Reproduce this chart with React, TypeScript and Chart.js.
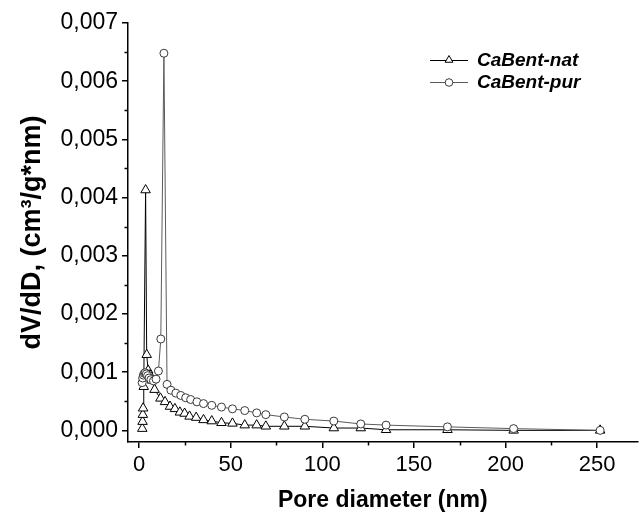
import React, { useEffect, useRef } from "react";
import { Chart, registerables } from "chart.js";

Chart.register(...registerables);

// ---- Data ----
const seriesNames = ["CaBent-nat", "CaBent-pur"];

const natDiameter = [1.8, 1.95, 2.1, 2.25, 2.6, 3.6, 4.2, 5.0, 6.0, 7.1, 8.5, 11.7, 14.2, 16.9, 19.6, 22.3, 24.9, 27.6, 31.2, 35.2, 39.7, 45, 51, 57.7, 64.2, 69.2, 79.3, 90.5, 106.3, 121, 134.8, 168.3, 204.4, 251.6];
const natValues = [0.00003, 0.00015, 0.00027, 0.00038, 0.00075, 0.00413, 0.0013, 0.00103, 0.00095, 0.00086, 0.0007, 0.00055, 0.00049, 0.00041, 0.00037, 0.00031, 0.00029, 0.00024, 0.00022, 0.00018, 0.00016, 0.00013, 0.00012, 0.00009, 0.00009, 0.00007, 0.00007, 0.00007, 0.00004, 0.00004, 0.00001, 0.00001, 0.0, 0.0];

const purDiameter = [1.7, 2.0, 2.4, 2.9, 3.4, 4.0, 4.7, 5.5, 6.5, 7.9, 9.3, 10.6, 11.9, 13.6, 15.3, 17.4, 20.1, 22.8, 25.5, 28.2, 31.6, 35.2, 39.7, 45, 51, 57.7, 64.2, 69.2, 79.3, 90.5, 106.3, 121, 134.8, 168.3, 204.4, 251.6];
const purValues = [0.00082, 0.0009, 0.00095, 0.00098, 0.00099, 0.00097, 0.00094, 0.0009, 0.00087, 0.00085, 0.00088, 0.00102, 0.00157, 0.00648, 0.00079, 0.00069, 0.00064, 0.0006, 0.00056, 0.00053, 0.00049, 0.00046, 0.00043, 0.0004, 0.00037, 0.00034, 0.0003, 0.00027, 0.00023, 0.00019, 0.00016, 0.00011, 0.00009, 0.00006, 0.00003, 0.0];

const xTicks = [0, 50, 100, 150, 200, 250];
const xMinorTicks = [25, 75, 125, 175, 225];
const yTicks = [0, 0.001, 0.002, 0.003, 0.004, 0.005, 0.006, 0.007];
const yMinorTicks = [0.0005, 0.0015, 0.0025, 0.0035, 0.0045, 0.0055, 0.0065];

const xTitle = "Pore diameter (nm)";
const yTitle = "dV/dD, (cm\u00B3/g*nm)";

const FONT = "'Liberation Sans', Arial, Helvetica, sans-serif";

export default function App() {
  const ref = useRef<HTMLCanvasElement>(null);

  useEffect(() => {
    if (!ref.current) return;

    const minorTicksPlugin = {
      id: "minorTicks",
      afterDraw(chart: any) {
        const { ctx, scales, chartArea } = chart;
        const xs = scales.x;
        const ys = scales.y;
        ctx.save();
        ctx.strokeStyle = "#000";
        ctx.lineWidth = 1.5;
        xMinorTicks.forEach((v) => {
          const px = Math.round(xs.getPixelForValue(v)) + 0.5;
          ctx.beginPath();
          ctx.moveTo(px, chartArea.bottom);
          ctx.lineTo(px, chartArea.bottom + 3.5);
          ctx.stroke();
        });
        yMinorTicks.forEach((v) => {
          const py = Math.round(ys.getPixelForValue(v)) + 0.5;
          ctx.beginPath();
          ctx.moveTo(chartArea.left, py);
          ctx.lineTo(chartArea.left - 3.5, py);
          ctx.stroke();
        });
        ctx.restore();
      },
    };

    const legendPlugin = {
      id: "customLegend",
      afterDraw(chart: any) {
        const { ctx } = chart;
        const x0 = 430;
        const x1 = 468;
        const mx = 449;
        const tx = 477;
        const rows = [60, 82];
        ctx.save();
        chart.data.datasets.forEach((ds: any, i: number) => {
          const y = rows[i];
          ctx.strokeStyle = ds.borderColor;
          ctx.lineWidth = 1;
          ctx.beginPath();
          ctx.moveTo(x0, y + 0.5);
          ctx.lineTo(x1, y + 0.5);
          ctx.stroke();
          ctx.fillStyle = "#fff";
          ctx.strokeStyle = ds.pointBorderColor;
          ctx.beginPath();
          if (ds.pointStyle === "triangle") {
            const r = 4.5;
            ctx.moveTo(mx, y - r);
            ctx.lineTo(mx + r * 0.866, y + r * 0.5);
            ctx.lineTo(mx - r * 0.866, y + r * 0.5);
            ctx.closePath();
          } else {
            ctx.arc(mx, y + 0.5, 3.8, 0, Math.PI * 2);
          }
          ctx.fill();
          ctx.stroke();
          ctx.fillStyle = "#000";
          ctx.font = `italic bold 19px ${FONT}`;
          ctx.textBaseline = "middle";
          ctx.textAlign = "left";
          ctx.fillText(ds.label, tx, y + 1);
        });
        ctx.restore();
      },
    };

    const chart = new Chart(ref.current, {
      type: "line",
      data: {
        datasets: [
          {
            label: seriesNames[0],
            data: natDiameter.map((x, i) => ({ x, y: natValues[i] })),
            borderColor: "#000",
            borderWidth: 1,
            pointStyle: "triangle",
            pointRadius: 5.5,
            pointBackgroundColor: "#fff",
            pointBorderColor: "#000",
            pointBorderWidth: 1,
            tension: 0,
            order: 2,
          },
          {
            label: seriesNames[1],
            data: purDiameter.map((x, i) => ({ x, y: purValues[i] })),
            borderColor: "#5a5a5a",
            borderWidth: 1,
            pointStyle: "circle",
            pointRadius: 4,
            pointBackgroundColor: "#fff",
            pointBorderColor: "#3a3a3a",
            pointBorderWidth: 1,
            tension: 0,
            order: 1,
          },
        ],
      },
      options: {
        animation: false,
        responsive: false,
        maintainAspectRatio: false,
        layout: { padding: { top: 23, right: 0, left: 0, bottom: 0 } },
        plugins: {
          legend: { display: false },
          tooltip: { enabled: false },
        },
        scales: {
          x: {
            type: "linear",
            min: -6,
            max: 272,
            afterBuildTicks: (s: any) => {
              s.ticks = xTicks.map((v) => ({ value: v }));
            },
            afterFit: (s: any) => {
              s.height = 75;
            },
            grid: {
              drawOnChartArea: false,
              color: "#000",
              lineWidth: 1.5,
              tickLength: 6,
            },
            border: { color: "#000", width: 1.5 },
            ticks: {
              color: "#000",
              font: { family: FONT, size: 22 },
              padding: 4,
              maxRotation: 0,
              autoSkip: false,
              callback: (v: any) => String(v),
            },
            title: {
              display: true,
              text: xTitle,
              color: "#000",
              font: { family: FONT, size: 23, weight: "bold" },
              padding: { top: 0, bottom: 3 },
            },
          },
          y: {
            type: "linear",
            min: -0.0002,
            max: 0.007,
            afterBuildTicks: (s: any) => {
              s.ticks = yTicks.map((v) => ({ value: v }));
            },
            afterFit: (s: any) => {
              s.width = 128;
            },
            grid: {
              drawOnChartArea: false,
              color: "#000",
              lineWidth: 1.5,
              tickLength: 6,
            },
            border: { color: "#000", width: 1.5 },
            ticks: {
              color: "#000",
              font: { family: FONT, size: 23 },
              padding: 4,
              autoSkip: false,
              callback: (v: any) => Number(v).toFixed(3).replace(".", ","),
            },
            title: {
              display: true,
              text: yTitle,
              color: "#000",
              font: { family: FONT, size: 27, weight: "bold" },
              padding: { top: 16, bottom: 0 },
            },
          },
        },
      },
      plugins: [minorTicksPlugin, legendPlugin],
    } as any);

    return () => chart.destroy();
  }, []);

  return (
    <div style={{ position: "absolute", left: 0, top: 0, width: 644, height: 517 }}>
      <canvas ref={ref} width={644} height={517} style={{ display: "block" }} />
    </div>
  );
}
